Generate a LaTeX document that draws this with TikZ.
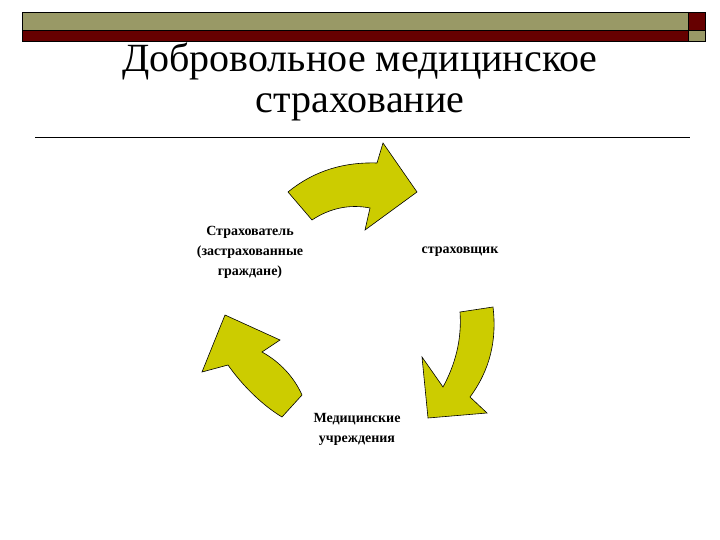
\documentclass[tikz,border=0pt]{standalone}
\usepackage{fontspec}
\setmainfont{Liberation Serif}
\begin{document}
\begin{tikzpicture}[x=1pt,y=-1pt,
  arr/.style={fill={rgb,255:red,204;green,204;blue,0},draw=black,line width=0.6pt,line join=miter},
  lbl/.style={font=\fontsize{14}{20}\selectfont\bfseries,align=center}]
\definecolor{olv}{RGB}{153,153,102}
\definecolor{dred}{RGB}{102,0,0}
\useasboundingbox (0,0) rectangle (720,540);
\fill[olv] (22,12) rectangle (688,30);
\fill[dred] (22,30) rectangle (688,41);
\fill[dred] (688,12) rectangle (705,30);
\fill[olv] (688,30) rectangle (705,41);
\draw[line width=0.6pt] (22,12) rectangle (705,41) (22,30)--(705,30) (688,12)--(688,41);
\node[font=\fontsize{40}{41}\selectfont,align=center] (title) at (360,82) {Добровольное медицинское\\страхование};
\coordinate (r1) at (35,137); \coordinate (r2) at (690,137);
\draw[line width=0.8pt] (r1)--(r2);
% top arrow
\draw[arr] (288,192) .. controls (315,170) and (345,162) .. (377,163) -- (383,143) -- (417,192) -- (365,230) -- (370,208) .. controls (350,204) and (330,208) .. (312,220) -- cycle;
% right arrow
\draw[arr] (460,312) -- (493,307) .. controls (497,340) and (490,370) .. (470,397) -- (487,413) -- (428,418) -- (422,357) -- (443,387) .. controls (455,365) and (462,340) .. cycle;
% left arrow
\draw[arr] (302,395) -- (282,417) .. controls (262,405) and (242,385) .. (228,365) -- (202,372) -- (225,315) -- (280,340) -- (262,352) .. controls (280,362) and (294,377) .. cycle;
\node[lbl] (a) at (250,252) {Страхователь\\(застрахованные\\граждане)};
\node[lbl] (b) at (460,252) {страховщик};
\node[lbl] (c) at (357,429) {Медицинские\\учреждения};
\end{tikzpicture}
\end{document}
